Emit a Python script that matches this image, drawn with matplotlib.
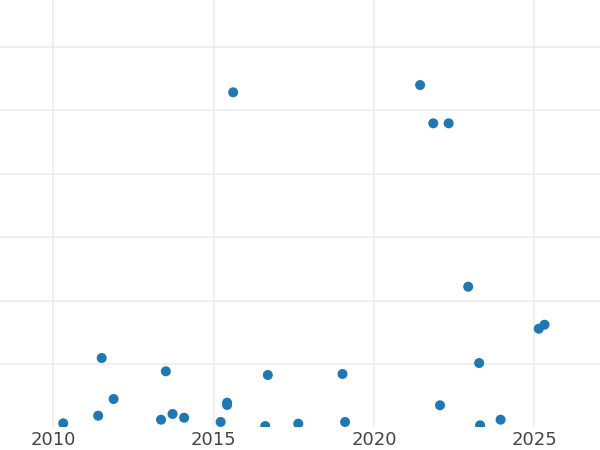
import matplotlib
matplotlib.use("Agg")
import matplotlib.pyplot as plt

years = [2010.31, 2011.51, 2011.40, 2011.88, 2013.51, 2013.36, 2013.72, 2014.08,
         2015.22, 2015.42, 2015.42, 2015.61, 2016.61, 2016.69, 2017.64, 2019.02,
         2019.10, 2021.44, 2021.85, 2022.33, 2022.06, 2022.94, 2023.28, 2023.31,
         2023.95, 2025.14, 2025.32]
values = [0.63, 10.93, 1.83, 4.46, 8.83, 1.20, 2.10, 1.51,
          0.84, 3.88, 3.52, 52.84, 0.20, 8.25, 0.57, 8.41,
          0.84, 53.99, 47.95, 47.95, 3.47, 22.18, 10.14, 0.32,
          1.20, 15.55, 16.18]
x_ticks = [2010, 2015, 2020, 2025]
y_grid = [10, 20, 30, 40, 50, 60]

fig = plt.figure(figsize=(6, 4.5), dpi=100)
ax = fig.add_axes([0, 22.7 / 450, 1, 427.3 / 450])
ax.set_xlim(2008.338, 2027.05)
ax.set_ylim(0, 67.4)

for y in y_grid:
    ax.axhline(y, color="#ebebeb", linewidth=1.1, zorder=0)
for x in x_ticks:
    ax.axvline(x, color="#ebebeb", linewidth=1.1, zorder=0)

ax.scatter(years, values, s=52, color="#1f77b4", edgecolors="none", zorder=3, clip_on=True)

ax.set_xticks(x_ticks)
ax.set_xticklabels([str(t) for t in x_ticks], fontsize=13, color="#444444", family="DejaVu Sans")
ax.set_yticks([])
ax.tick_params(axis="x", length=0, pad=3.0)
for s in ax.spines.values():
    s.set_visible(False)

fig.savefig("out.png", dpi=100, facecolor="white")
